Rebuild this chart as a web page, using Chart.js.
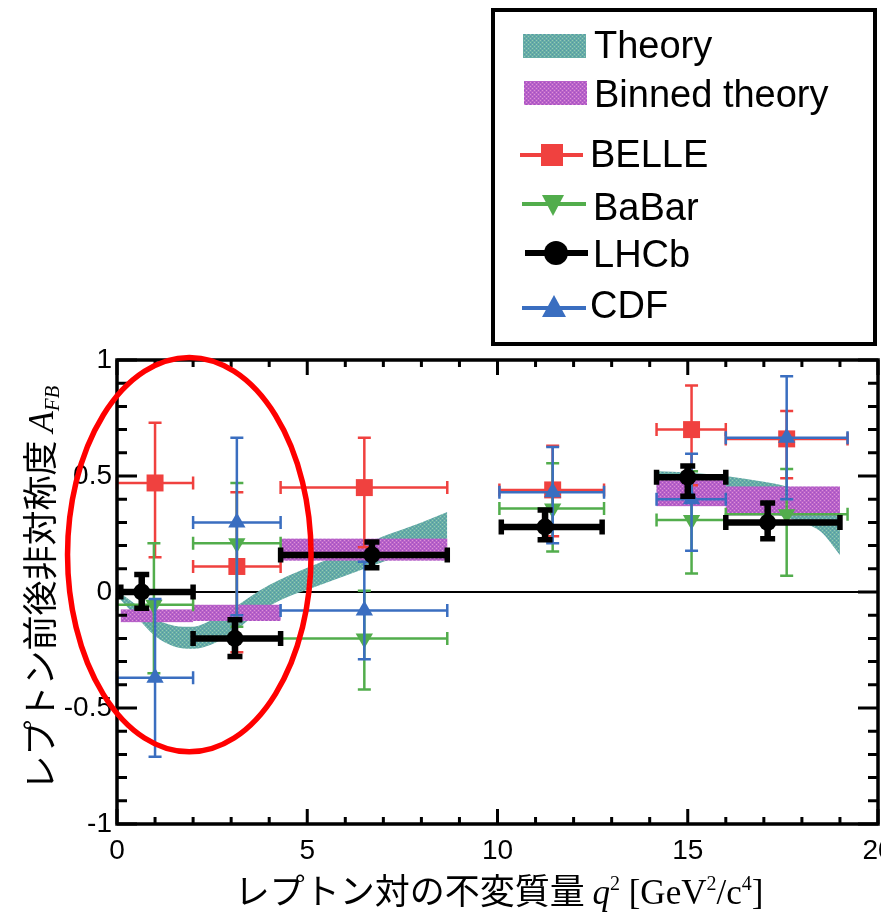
<!DOCTYPE html>
<html lang="ja">
<head>
<meta charset="UTF-8">
<title>A_FB vs q2</title>
<script src="https://cdn.jsdelivr.net/npm/chart.js@4.4.1/dist/chart.umd.min.js"></script>
<style>
  html, body { margin: 0; padding: 0; background: #fff; }
  #wrap { width: 881px; height: 913px; position: relative; }
</style>
</head>
<body>
<div id="wrap"><canvas id="afbChart"></canvas></div>
<script>
// values (q^2 in GeV^2/c^4, A_FB)

// theory band (no prediction between 8.68 and 14.18)
const theoryQ2  = [0.1, 0.5, 1.0, 1.5, 2.0, 2.5, 3.0, 3.5, 4.0, 4.5, 5.0, 6.0, 7.0, 8.0, 8.68,
                   14.18, 15.0, 16.0, 17.0, 17.6, 18.0, 18.5, 19.0];
const theoryMin = [-0.035, -0.105, -0.19, -0.235, -0.245, -0.225, -0.18, -0.115, -0.06, -0.02, 0.01, 0.07, 0.13, 0.19, 0.23,
                   0.41, 0.40, 0.38, 0.35, 0.32, 0.30, 0.26, 0.16];
const theoryMax = [-0.005, -0.055, -0.115, -0.145, -0.15, -0.12, -0.075, -0.02, 0.03, 0.07, 0.105, 0.17, 0.24, 0.30, 0.345,
                   0.52, 0.515, 0.50, 0.475, 0.455, 0.43, 0.39, 0.32];

// binned theory
const binnedLo  = [0.10, 2.00, 4.30, 14.18, 16.00];
const binnedHi  = [2.00, 4.30, 8.68, 16.00, 19.00];
const binnedMin = [-0.13, -0.125, 0.135, 0.37, 0.33];
const binnedMax = [-0.075, -0.055, 0.23, 0.50, 0.455];

// BELLE
const belleQ2    = [1.00, 3.15, 6.50, 11.45, 15.10, 17.60];
const belleBinLo = [0.00, 2.00, 4.30, 10.05, 14.18, 16.00];
const belleBinHi = [2.00, 4.30, 8.68, 12.80, 16.00, 19.20];
const belleAfb   = [0.47, 0.11, 0.45, 0.44, 0.70, 0.66];
const belleErrUp = [0.26, 0.32, 0.215, 0.19, 0.19, 0.12];
const belleErrDn = [0.32, 0.37, 0.257, 0.20, 0.24, 0.17];

// BaBar
const babarQ2    = [0.97, 3.15, 6.50, 11.45, 15.10, 17.60];
const babarBinLo = [0.00, 2.00, 4.30, 10.05, 14.18, 16.00];
const babarBinHi = [2.00, 4.30, 8.68, 12.80, 16.00, 19.20];
const babarAfb   = [-0.055, 0.21, -0.20, 0.36, 0.31, 0.335];
const babarErrUp = [0.265, 0.26, 0.205, 0.195, 0.21, 0.195];
const babarErrDn = [0.295, 0.36, 0.22, 0.185, 0.23, 0.265];

// LHCb
const lhcbQ2    = [0.65, 3.10, 6.70, 11.25, 15.00, 17.10];
const lhcbBinLo = [0.10, 2.00, 4.30, 10.10, 14.18, 16.00];
const lhcbBinHi = [2.00, 4.30, 8.68, 12.75, 16.00, 19.00];
const lhcbAfb   = [0.00, -0.20, 0.16, 0.28, 0.495, 0.30];
const lhcbErrUp = [0.075, 0.08, 0.055, 0.073, 0.048, 0.084];
const lhcbErrDn = [0.07, 0.078, 0.055, 0.055, 0.082, 0.071];

// CDF
const cdfQ2    = [1.00, 3.15, 6.50, 11.45, 15.10, 17.60];
const cdfBinLo = [0.00, 2.00, 4.30, 10.05, 14.18, 16.00];
const cdfBinHi = [2.00, 4.30, 8.68, 12.80, 16.00, 19.20];
const cdfAfb   = [-0.37, 0.30, -0.08, 0.43, 0.40, 0.665];
const cdfErrUp = [0.34, 0.365, 0.21, 0.195, 0.196, 0.265];
const cdfErrDn = [0.34, 0.40, 0.21, 0.22, 0.222, 0.265];

// axes
const xRange = [0, 20];
const yRange = [-1, 1];
const xMajorStep = 5, xMinorStep = 1;
const yMajorStep = 0.5, yMinorStep = 0.1;

// red highlight ellipse (centre and half axes in data units)
const markQ2 = 1.9, markAfb = 0.161, markHalfQ2 = 3.2, markHalfAfb = 0.85;

const legendLabels = ['Theory', 'Binned theory', 'BELLE', 'BaBar', 'LHCb', 'CDF'];

// ---------------------------------------------------------------

function makePattern(base, dotA, dotB) {
  const c = document.createElement('canvas');
  c.width = 4; c.height = 4;
  const g = c.getContext('2d');
  g.fillStyle = base; g.fillRect(0, 0, 4, 4);
  g.fillStyle = dotA; g.fillRect(0, 0, 1, 1); g.fillRect(2, 2, 1, 1);
  g.fillStyle = dotB; g.fillRect(2, 0, 1, 1); g.fillRect(0, 2, 1, 1);
  return g.createPattern(c, 'repeat');
}
const tealFill = makePattern('#66ada5', '#94c8b6', '#5595aa');
const purpleFill = makePattern('#b861c8', '#de92d8', '#a052c4');

const RED = '#f0413f', GREEN = '#52ad4c', BLUE = '#3a6ec0', BLACK = '#000000';

function points(q2, lo, hi, afb, up, dn) {
  return q2.map((v, i) => ({ x: v, y: afb[i], xMin: lo[i], xMax: hi[i], yMin: afb[i] - dn[i], yMax: afb[i] + up[i] }));
}

// split theory into continuous pieces
const theorySegments = [];
theoryQ2.forEach((q, i) => {
  if (i === 0 || q - theoryQ2[i - 1] > 3) theorySegments.push([]);
  theorySegments[theorySegments.length - 1].push(i);
});

const datasets = [];
theorySegments.forEach(seg => {
  datasets.push({
    label: 'Theory', data: seg.map(i => ({ x: theoryQ2[i], y: theoryMax[i] })),
    fill: '+1', backgroundColor: tealFill, borderWidth: 0, borderColor: 'rgba(0,0,0,0)',
    pointRadius: 0, cubicInterpolationMode: 'monotone', order: 20
  });
  datasets.push({
    label: 'Theory', data: seg.map(i => ({ x: theoryQ2[i], y: theoryMin[i] })),
    fill: false, borderWidth: 0, borderColor: 'rgba(0,0,0,0)',
    pointRadius: 0, cubicInterpolationMode: 'monotone', order: 20
  });
});

datasets.push({
  label: 'Binned theory',
  data: binnedLo.map((lo, i) => ({ x: (lo + binnedHi[i]) / 2, y: (binnedMin[i] + binnedMax[i]) / 2, xMin: lo, xMax: binnedHi[i], yMin: binnedMin[i], yMax: binnedMax[i] })),
  showLine: false, pointRadius: 0, boxes: true, backgroundColor: purpleFill, order: 10
});

datasets.push({
  label: 'BELLE', data: points(belleQ2, belleBinLo, belleBinHi, belleAfb, belleErrUp, belleErrDn),
  showLine: false, pointStyle: 'rect', pointRadius: 12, backgroundColor: RED, borderColor: RED, borderWidth: 0,
  errBar: { line: 2.5, cap: 6.5, capLine: 2.5 }, order: 5
});
datasets.push({
  label: 'BaBar', data: points(babarQ2, babarBinLo, babarBinHi, babarAfb, babarErrUp, babarErrDn),
  showLine: false, pointStyle: 'triangle', pointRotation: 180, pointRadius: 10, backgroundColor: GREEN, borderColor: GREEN, borderWidth: 0,
  errBar: { line: 2.5, cap: 6.5, capLine: 2.5 }, order: 4
});
datasets.push({
  label: 'CDF', data: points(cdfQ2, cdfBinLo, cdfBinHi, cdfAfb, cdfErrUp, cdfErrDn),
  showLine: false, pointStyle: 'triangle', pointRadius: 10, backgroundColor: BLUE, borderColor: BLUE, borderWidth: 0,
  errBar: { line: 2.5, cap: 6.5, capLine: 2.5 }, order: 3
});
datasets.push({
  label: 'LHCb', data: points(lhcbQ2, lhcbBinLo, lhcbBinHi, lhcbAfb, lhcbErrUp, lhcbErrDn),
  showLine: false, pointStyle: 'circle', pointRadius: 8.5, backgroundColor: BLACK, borderColor: BLACK, borderWidth: 0,
  errBar: { line: 6.5, cap: 7.5, capLine: 5.5 }, order: 2
});

function drawErrorBars(chart, ds) {
  const { ctx, scales: { x, y } } = chart;
  const s = ds.errBar;
  ctx.save();
  ctx.strokeStyle = ds.borderColor;
  ds.data.forEach(p => {
    const px = x.getPixelForValue(p.x), py = y.getPixelForValue(p.y);
    const x0 = x.getPixelForValue(p.xMin), x1 = x.getPixelForValue(p.xMax);
    const y0 = y.getPixelForValue(p.yMin), y1 = y.getPixelForValue(p.yMax);
    ctx.lineWidth = s.line;
    ctx.beginPath();
    ctx.moveTo(x0, py); ctx.lineTo(x1, py);
    ctx.moveTo(px, y0); ctx.lineTo(px, y1);
    ctx.stroke();
    ctx.lineWidth = s.capLine;
    ctx.beginPath();
    ctx.moveTo(x0, py - s.cap); ctx.lineTo(x0, py + s.cap);
    ctx.moveTo(x1, py - s.cap); ctx.lineTo(x1, py + s.cap);
    ctx.moveTo(px - s.cap, y0); ctx.lineTo(px + s.cap, y0);
    ctx.moveTo(px - s.cap, y1); ctx.lineTo(px + s.cap, y1);
    ctx.stroke();
  });
  ctx.restore();
}

function drawBoxes(chart, ds) {
  const { ctx, scales: { x, y } } = chart;
  ctx.save();
  ctx.fillStyle = ds.backgroundColor;
  ds.data.forEach(p => {
    const x0 = x.getPixelForValue(p.xMin), x1 = x.getPixelForValue(p.xMax);
    const y0 = y.getPixelForValue(p.yMax), y1 = y.getPixelForValue(p.yMin);
    ctx.fillRect(x0, y0, x1 - x0, y1 - y0);
  });
  ctx.restore();
}

function drawRich(ctx, parts, cx, baseline) {
  let total = 0;
  parts.forEach(p => { ctx.font = p.font; p.w = ctx.measureText(p.text).width; total += p.w; });
  let xx = cx - total / 2;
  ctx.textAlign = 'left';
  ctx.textBaseline = 'alphabetic';
  parts.forEach(p => { ctx.font = p.font; ctx.fillText(p.text, xx, baseline + (p.shift || 0)); xx += p.w; });
}

function drawFrame(chart) {
  const { ctx, chartArea: a, scales: { x, y } } = chart;
  ctx.save();
  ctx.strokeStyle = '#000';
  ctx.lineWidth = 3;
  ctx.beginPath();
  for (let v = xRange[0]; v <= xRange[1] + 1e-9; v += xMinorStep) {
    const px = x.getPixelForValue(v);
    const len = Math.abs(v / xMajorStep - Math.round(v / xMajorStep)) < 1e-6 ? 15 : 7;
    ctx.moveTo(px, a.bottom); ctx.lineTo(px, a.bottom - len);
    ctx.moveTo(px, a.top); ctx.lineTo(px, a.top + len);
  }
  const nY = Math.round((yRange[1] - yRange[0]) / yMinorStep);
  for (let k = 0; k <= nY; k++) {
    const v = yRange[0] + k * yMinorStep;
    const py = y.getPixelForValue(v);
    const len = Math.abs(v / yMajorStep - Math.round(v / yMajorStep)) < 1e-6 ? 20 : 10;
    ctx.moveTo(a.left, py); ctx.lineTo(a.left + len, py);
    ctx.moveTo(a.right, py); ctx.lineTo(a.right - len, py);
  }
  ctx.stroke();
  ctx.lineWidth = 3.5;
  ctx.strokeRect(a.left, a.top, a.right - a.left, a.bottom - a.top);
  ctx.restore();
}

function drawLegend(chart) {
  const ctx = chart.ctx;
  ctx.save();
  ctx.lineWidth = 4;
  ctx.strokeStyle = '#000';
  ctx.strokeRect(493, 10, 382, 334);

  ctx.fillStyle = tealFill; ctx.fillRect(523, 34, 63, 24);
  ctx.fillStyle = purpleFill; ctx.fillRect(524, 81, 63, 24);

  // BELLE
  ctx.strokeStyle = RED; ctx.lineWidth = 4;
  ctx.beginPath(); ctx.moveTo(520, 155); ctx.lineTo(583, 155); ctx.stroke();
  ctx.fillStyle = RED; ctx.fillRect(541, 144, 22, 22);
  // BaBar
  ctx.strokeStyle = GREEN;
  ctx.beginPath(); ctx.moveTo(522, 204); ctx.lineTo(586, 204); ctx.stroke();
  ctx.fillStyle = GREEN;
  ctx.beginPath(); ctx.moveTo(542, 195); ctx.lineTo(564, 195); ctx.lineTo(553, 216); ctx.closePath(); ctx.fill();
  // LHCb
  ctx.strokeStyle = BLACK; ctx.lineWidth = 6;
  ctx.beginPath(); ctx.moveTo(525, 253); ctx.lineTo(588, 253); ctx.stroke();
  ctx.fillStyle = BLACK;
  ctx.beginPath(); ctx.arc(556, 253, 12, 0, Math.PI * 2); ctx.fill();
  // CDF
  ctx.strokeStyle = BLUE; ctx.lineWidth = 4;
  ctx.beginPath(); ctx.moveTo(522, 308); ctx.lineTo(586, 308); ctx.stroke();
  ctx.fillStyle = BLUE;
  ctx.beginPath(); ctx.moveTo(554, 295); ctx.lineTo(566, 317); ctx.lineTo(542, 317); ctx.closePath(); ctx.fill();

  ctx.fillStyle = '#000';
  ctx.font = '38px "Liberation Sans", Arial, sans-serif';
  ctx.textAlign = 'left';
  ctx.textBaseline = 'middle';
  const rows = [[594, 48], [594, 97], [590, 157], [593, 210], [593, 257], [590, 308]];
  legendLabels.forEach((t, i) => ctx.fillText(t, rows[i][0], rows[i][1]));
  ctx.restore();
}

const extrasPlugin = {
  id: 'extras',
  beforeDatasetsDraw(chart) {
    const { ctx, chartArea: a, scales: { y } } = chart;
    const y0 = y.getPixelForValue(0);
    ctx.save();
    ctx.strokeStyle = '#000'; ctx.lineWidth = 2;
    ctx.beginPath(); ctx.moveTo(a.left, y0); ctx.lineTo(a.right, y0); ctx.stroke();
    ctx.restore();
  },
  beforeDatasetDraw(chart, args) {
    const ds = chart.data.datasets[args.index];
    if (ds.boxes) drawBoxes(chart, ds);
    if (ds.errBar) drawErrorBars(chart, ds);
  },
  afterDatasetsDraw(chart) {
    drawFrame(chart);
  },
  afterDraw(chart) {
    const { ctx, scales: { x, y } } = chart;
    ctx.save();
    ctx.fillStyle = '#000';
    const cjk = '35px "Noto Sans CJK JP", sans-serif';
    const serif = '"Liberation Serif", "Times New Roman", serif';
    // x title
    drawRich(ctx, [
      { text: 'レプトン対の不変質量 ', font: cjk },
      { text: 'q', font: 'italic 35px ' + serif },
      { text: '2', font: '20px ' + serif, shift: -14 },
      { text: ' [GeV', font: '35px ' + serif },
      { text: '2', font: '20px ' + serif, shift: -14 },
      { text: '/c', font: '35px ' + serif },
      { text: '4', font: '20px ' + serif, shift: -14 },
      { text: ']', font: '35px ' + serif }
    ], 499, 904);
    // y title
    ctx.translate(53, 588);
    ctx.rotate(-Math.PI / 2);
    drawRich(ctx, [
      { text: 'レプトン前後非対称度 ', font: cjk },
      { text: 'A', font: 'italic 35px ' + serif },
      { text: 'FB', font: 'italic 21px ' + serif, shift: 6 }
    ], 0, 0);
    ctx.restore();

    // highlight ellipse
    const cx = x.getPixelForValue(markQ2), cy = y.getPixelForValue(markAfb);
    const rx = x.getPixelForValue(markQ2 + markHalfQ2) - cx;
    const ry = cy - y.getPixelForValue(markAfb + markHalfAfb);
    ctx.save();
    ctx.strokeStyle = '#ff0000'; ctx.lineWidth = 5.5;
    ctx.beginPath(); ctx.ellipse(cx, cy, rx, ry, 0, 0, Math.PI * 2); ctx.stroke();
    ctx.restore();

    drawLegend(chart);
  }
};

// keep tick labels from pushing the plot frame inwards
const noPadding = () => ({ left: 0, top: 0, right: 0, bottom: 0 });

Chart.defaults.font.family = '"Liberation Sans", Arial, sans-serif';
Chart.defaults.color = '#000';

new Chart(document.getElementById('afbChart'), {
  type: 'line',
  data: { datasets },
  options: {
    responsive: true,
    maintainAspectRatio: false,
    animation: false,
    events: [],
    layout: { autoPadding: false, padding: { top: 360, right: 3, left: 0, bottom: 0 } },
    plugins: { legend: { display: false }, tooltip: { enabled: false } },
    scales: {
      x: {
        type: 'linear', min: xRange[0], max: xRange[1],
        grid: { display: false, drawTicks: false }, border: { display: false },
        ticks: { stepSize: xMajorStep, autoSkip: false, maxRotation: 0, padding: 10, font: { size: 28 }, callback: v => String(v) },
        afterFit(s) { s.height = 89; s.paddingLeft = 0; s.paddingRight = 0; s.getPadding = noPadding; }
      },
      y: {
        type: 'linear', min: yRange[0], max: yRange[1],
        grid: { display: false, drawTicks: false }, border: { display: false },
        ticks: { stepSize: yMajorStep, padding: 5, font: { size: 28 }, callback: v => String(Math.round(v * 10) / 10) },
        afterFit(s) { s.width = 117; s.paddingTop = 0; s.paddingBottom = 0; s.getPadding = noPadding; }
      }
    }
  },
  plugins: [extrasPlugin]
});
</script>
</body>
</html>
